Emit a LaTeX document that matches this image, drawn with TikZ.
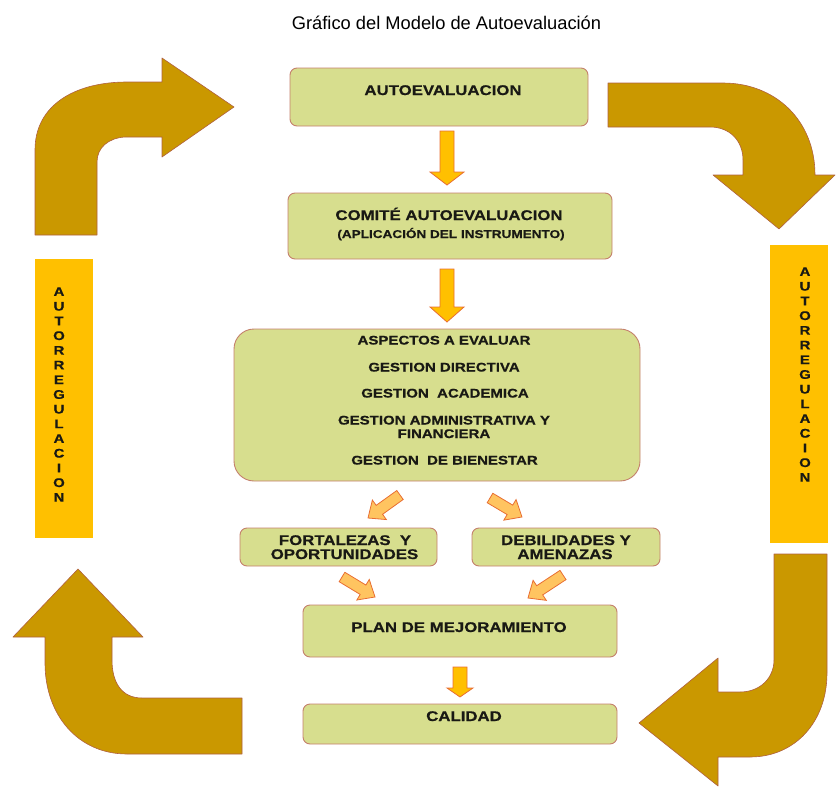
\documentclass[tikz,border=0pt]{standalone}
\usepackage{fontspec}
\setmainfont{Liberation Sans}
\newfontfamily\titlefont{Liberation Sans}
\newfontfamily\boxfont{Liberation Sans}[FakeStretch=1.2,FakeBold=0.6]
\usetikzlibrary{calc}
\definecolor{boxfill}{RGB}{215,222,142}
\definecolor{boxline}{RGB}{196,128,108}
\definecolor{bigarrow}{RGB}{202,152,0}
\definecolor{bigline}{RGB}{176,96,64}
\definecolor{barfill}{RGB}{255,192,0}
\definecolor{smallfill}{RGB}{255,192,0}
\definecolor{diagfill}{RGB}{255,196,96}
\definecolor{smallline}{RGB}{232,110,50}
\definecolor{txt}{RGB}{25,25,20}
\newcommand\vArrow[6]{% cx, top, headstart, tip, shaft half, head half
  \draw[smallarr] (#1-#5,#2) -- (#1+#5,#2) -- (#1+#5,#3) -- (#1+#6,#3) -- (#1,#4) -- (#1-#6,#3) -- (#1-#5,#3) -- cycle;}
\newcommand\dArrow[4]{% tail x, tail y, angle, length
  \begin{scope}[shift={(#1,#2)}, rotate=#3]
    \draw[diagarr] (0,-5.5) -- (#4-14,-5.5) -- (#4-14,-12) -- (#4,0) -- (#4-14,12) -- (#4-14,5.5) -- (0,5.5) -- cycle;
  \end{scope}}
\begin{document}
\begin{tikzpicture}[x=1pt,y=-1pt,
  box/.style={draw=boxline, fill=boxfill, line width=0.9pt, rounded corners=7pt, inner sep=0pt},
  lbl/.style={font=\boxfont\bfseries\fontsize{14}{16}\selectfont, text=txt, anchor=base, inner sep=0pt},
  lblsmall/.style={font=\boxfont\bfseries\fontsize{11.3}{13}\selectfont, text=txt, anchor=base, inner sep=0pt},
  lblmid/.style={font=\boxfont\bfseries\fontsize{12.5}{14}\selectfont, text=txt, anchor=base, inner sep=0pt},
  vtext/.style={font=\boxfont\bfseries\fontsize{12.5}{14.7}\selectfont, text=txt, align=center, inner sep=0pt},
  bar/.style={fill=barfill, draw=none, inner sep=0pt},
  big/.style={fill=bigarrow, draw=bigline, line width=0.6pt, line join=round},
  smallarr/.style={fill=smallfill, draw=smallline, line width=0.8pt, line join=miter},
  diagarr/.style={fill=diagfill, draw=smallline, line width=0.8pt, line join=miter},
  titlest/.style={font=\titlefont\fontsize{18.3}{20}\selectfont, anchor=base, inner sep=0pt}]
\useasboundingbox (0,0) rectangle (836,787);

% title
\node[titlest] (title) at (446.5,29) {Gráfico del Modelo de Autoevaluación};

% big curved arrows
\draw[big] (35,235) -- (35,150) .. controls (35,105) and (75,82) .. (127,82) -- (162,82) -- (162,58) -- (234,107) -- (162,157) -- (162,137) -- (125,137) .. controls (108,138) and (97,148) .. (97,162) -- (97,235) -- cycle;
\draw[big] (608,83) -- (723,83) .. controls (775,83) and (815,120) .. (815,175) -- (835,175) -- (779,229) -- (713,175) -- (743,175) -- (743,160) .. controls (743,141) and (730,127) .. (710,127) -- (608,127) -- cycle;
\draw[big] (774,554) -- (827,554) -- (827,673) .. controls (827,722) and (795,757) .. (750,757) -- (718,757) -- (718,786) -- (639,723) -- (718,658) -- (718,692) -- (740,692) .. controls (760,692) and (774,678) .. (774,660) -- cycle;
\draw[big] (242,698) -- (242,754) -- (127,754) .. controls (78,754) and (45,715) .. (45,663) -- (45,637) -- (13,637) -- (78,569) -- (143,637) -- (112,637) -- (112,660) .. controls (112,683) and (122,698) .. (142,698) -- cycle;

% side bars
\node[bar, minimum width=58pt, minimum height=279pt] (barL) at (64,398.5) {};
\node[vtext] (vL) at (59,394.5) {A\\U\\T\\O\\R\\R\\E\\G\\U\\L\\A\\C\\I\\O\\N};
\node[bar, minimum width=58pt, minimum height=298pt] (barR) at (799,394) {};
\node[vtext] (vR) at (805,374.5) {A\\U\\T\\O\\R\\R\\E\\G\\U\\L\\A\\C\\I\\O\\N};

% boxes
\node[box, minimum width=298pt, minimum height=58pt] (auto) at (439,97) {};
\node[box, minimum width=324pt, minimum height=66pt] (comite) at (450,226) {};
\node[box, rounded corners=20pt, minimum width=406pt, minimum height=152pt] (aspectos) at (437,405) {};
\node[box, minimum width=197pt, minimum height=38pt] (fort) at (338.5,547) {};
\node[box, minimum width=188pt, minimum height=38pt] (deb) at (566,547) {};
\node[box, minimum width=314pt, minimum height=52pt] (plan) at (460,631) {};
\node[box, minimum width=314pt, minimum height=40pt] (calidad) at (460,724) {};

% labels
\node[lbl] (tauto) at (443,95) {AUTOEVALUACION};
\node[lbl] (tcom) at (449,220) {COMITÉ AUTOEVALUACION};
\node[lblsmall] (tapl) at (451,238) {(APLICACIÓN DEL INSTRUMENTO)};
\node[lblmid] (tasp) at (444,344.5) {ASPECTOS A EVALUAR};
\node[lblmid] (tdir) at (444,371.5) {GESTION DIRECTIVA};
\node[lblmid] (taca) at (445,397.5) {GESTION\ \ ACADEMICA};
\node[lblmid] (tadm) at (444,424.5) {GESTION ADMINISTRATIVA Y};
\node[lblmid] (tfin) at (444,438) {FINANCIERA};
\node[lblmid] (tbie) at (444.5,464.5) {GESTION\ \ DE BIENESTAR};
\node[lbl] (tfort1) at (345,545) {FORTALEZAS\ \ Y};
\node[lbl] (tfort2) at (344.5,559) {OPORTUNIDADES};
\node[lbl] (tdeb1) at (566,545) {DEBILIDADES Y};
\node[lbl] (tdeb2) at (565,559) {AMENAZAS};
\node[lbl] (tplan) at (459,632) {PLAN DE MEJORAMIENTO};
\node[lbl] (tcal) at (464,721) {CALIDAD};

% small arrows
\vArrow{447}{131}{172}{185}{7}{17}
\vArrow{447}{269}{307}{322}{7}{17}
\vArrow{460}{667}{688}{697}{7}{13}
\dArrow{400}{495}{215.7}{39.4}
\dArrow{490}{498}{329.3}{37.2}
\dArrow{342}{577}{328.8}{38.6}
\dArrow{563}{575}{213.3}{41.9}
\end{tikzpicture}
\end{document}
